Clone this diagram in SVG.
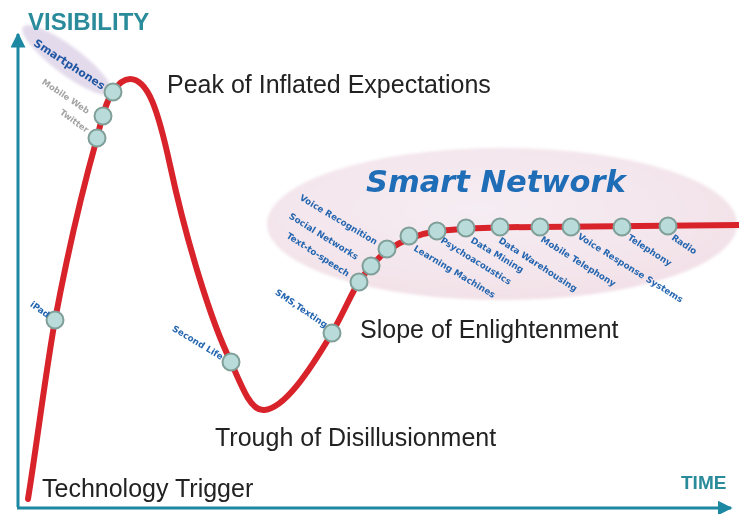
<svg xmlns="http://www.w3.org/2000/svg" width="739" height="514" viewBox="0 0 739 514">
  <defs>
    <style>
      .stage { font-family: "Liberation Sans", Arial, sans-serif; font-size: 25px; fill: #222; }
      .axis-title { font-family: "Liberation Sans", Arial, sans-serif; font-weight: bold; fill: #2a8b9b; }
      .axis { stroke: #1d88a1; stroke-width: 3; fill: none; }
      .curve { stroke: #d8232b; stroke-width: 6; fill: none; stroke-linecap: round; stroke-linejoin: round; }
      .dot { fill: #b9dcdb; stroke: #7f9f98; stroke-width: 2; }
      .lbl { font-family: "DejaVu Sans", Verdana, sans-serif; font-weight: bold; font-size: 8.8px; fill: #2566b0; }
      .lbl-grey { font-family: "DejaVu Sans", Verdana, sans-serif; font-weight: bold; font-size: 8.4px; fill: #a3a3a3; }
      .end { text-anchor: end; }
      .cluster-title { font-family: "DejaVu Sans", Verdana, sans-serif; font-weight: bold; font-style: italic; font-size: 30.5px; fill: #1f6db7; }
    </style>
    <radialGradient id="haze" cx="0.45" cy="0.4" r="0.62">
      <stop offset="0" stop-color="#f5edf4"/>
      <stop offset="0.8" stop-color="#f3e4ea"/>
      <stop offset="1" stop-color="#f2e0e7"/>
    </radialGradient>
    <filter id="soft" x="-10%" y="-20%" width="120%" height="140%">
      <feGaussianBlur stdDeviation="1.5"/>
    </filter>
    <marker id="arrow" viewBox="0 0 10 10" refX="9" refY="5" markerWidth="5" markerHeight="5" orient="auto-start-reverse">
      <path d="M0,0 L10,5 L0,10 z" fill="#1d88a1"/>
    </marker>
  </defs>

  <rect width="739" height="514" fill="#ffffff"/>

  <!-- highlight regions -->
  <g id="highlights" filter="url(#soft)">
    <ellipse cx="67" cy="60" rx="55" ry="14" transform="rotate(37 67 60)" fill="#e3daeb"/>
    <ellipse cx="502" cy="224" rx="235" ry="76" fill="url(#haze)"/>
  </g>

  <!-- axes -->
  <g id="axes">
    <path class="axis" d="M18,507 L18,34" marker-end="url(#arrow)"/>
    <path class="axis" d="M17,508 L731,508" marker-end="url(#arrow)"/>
    <text class="axis-title" x="28" y="30" font-size="24">VISIBILITY</text>
    <text class="axis-title" x="681" y="489" font-size="19">TIME</text>
  </g>

  <!-- hype curve -->
  <g id="connectors">
    <path class="curve" d="M28,499 C36,450 46,370 55,320 C70,240 88,170 97,138 C101,122 106,100 113,92 C118,84 123,79 130,79 C148,79 158,110 170,165 C185,235 210,320 231,362 C243,390 251,410 263,410 C284,410 310,370 332,333 C345,310 352,292 359,282 C375,258 395,238 437,231 C470,228 500,227 540,227 L739,225"/>
  </g>

  <!-- stage labels -->
  <g id="stages">
    <text class="stage" x="167" y="93">Peak of Inflated Expectations</text>
    <text class="stage" x="360" y="338">Slope of Enlightenment</text>
    <text class="stage" x="215" y="446">Trough of Disillusionment</text>
    <text class="stage" x="42" y="497">Technology Trigger</text>
  </g>

  <text class="cluster-title" x="366" y="192">Smart Network</text>

  <!-- technology nodes -->
  <g id="ipad">
    <circle class="dot" cx="55" cy="320" r="8.5"/>
    <text class="lbl end" transform="translate(47,318) rotate(35)">iPad</text>
  </g>
  <g id="twitter">
    <circle class="dot" cx="97" cy="138" r="8.5"/>
    <text class="lbl-grey end" transform="translate(86,133) rotate(36)">Twitter</text>
  </g>
  <g id="mobile-web">
    <circle class="dot" cx="103" cy="116" r="8.5"/>
    <text class="lbl-grey end" transform="translate(87,114) rotate(34)">Mobile Web</text>
  </g>
  <g id="smartphones">
    <circle class="dot" cx="113" cy="92" r="8.5"/>
    <text class="lbl end" transform="translate(102,90) rotate(33)" style="font-size:11px;fill:#2056a3">Smartphones</text>
  </g>
  <g id="second-life">
    <circle class="dot" cx="231" cy="362" r="8.5"/>
    <text class="lbl end" transform="translate(221,360) rotate(31)">Second Life</text>
  </g>
  <g id="sms-texting">
    <circle class="dot" cx="332" cy="333" r="8.5"/>
    <text class="lbl end" transform="translate(325,328) rotate(34)">SMS,Texting</text>
  </g>
  <g id="text-to-speech">
    <circle class="dot" cx="359" cy="282" r="8.5"/>
    <text class="lbl end" transform="translate(347,277) rotate(33)">Text-to-speech</text>
  </g>
  <g id="social-networks">
    <circle class="dot" cx="371" cy="266" r="8.5"/>
    <text class="lbl end" transform="translate(356,260) rotate(32)">Social Networks</text>
  </g>
  <g id="voice-recognition">
    <circle class="dot" cx="387" cy="249" r="8.5"/>
    <text class="lbl end" transform="translate(375,245) rotate(31)">Voice Recognition</text>
  </g>
  <g id="learning-machines">
    <circle class="dot" cx="409" cy="236" r="8.5"/>
    <text class="lbl" transform="translate(413,250) rotate(31)">Learning Machines</text>
  </g>
  <g id="psychoacoustics">
    <circle class="dot" cx="437" cy="231" r="8.5"/>
    <text class="lbl" transform="translate(440,242) rotate(32)">Psychoacoustics</text>
  </g>
  <g id="data-mining">
    <circle class="dot" cx="466" cy="228" r="8.5"/>
    <text class="lbl" transform="translate(470,242) rotate(31)">Data Mining</text>
  </g>
  <g id="data-warehousing">
    <circle class="dot" cx="500" cy="227" r="8.5"/>
    <text class="lbl" transform="translate(498,242) rotate(33)">Data Warehousing</text>
  </g>
  <g id="mobile-telephony">
    <circle class="dot" cx="540" cy="227" r="8.5"/>
    <text class="lbl" transform="translate(540,241) rotate(32)">Mobile Telephony</text>
  </g>
  <g id="voice-response-systems">
    <circle class="dot" cx="571" cy="227" r="8.5"/>
    <text class="lbl" transform="translate(577,238) rotate(32)">Voice Response Systems</text>
  </g>
  <g id="telephony">
    <circle class="dot" cx="622" cy="227" r="8.5"/>
    <text class="lbl" transform="translate(627,239) rotate(33)">Telephony</text>
  </g>
  <g id="radio">
    <circle class="dot" cx="668" cy="226" r="8.5"/>
    <text class="lbl" transform="translate(671,239) rotate(34)">Radio</text>
  </g>
</svg>
